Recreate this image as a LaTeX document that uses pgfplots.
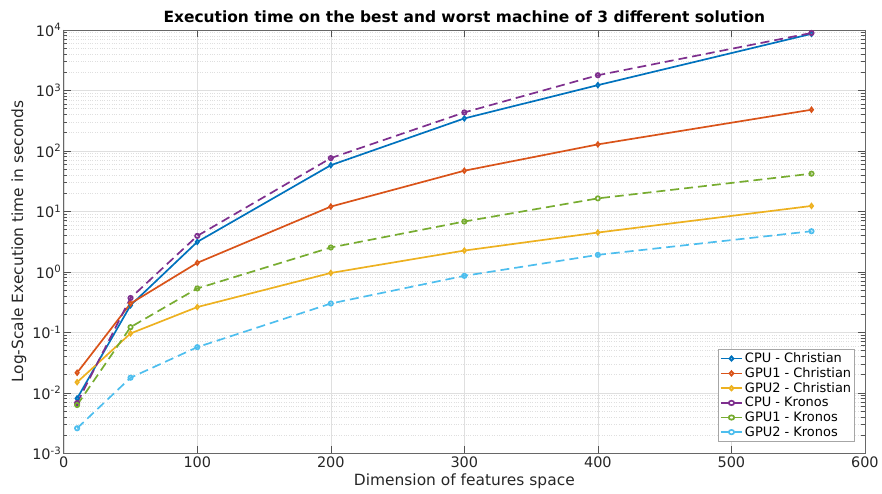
\documentclass[border=0pt]{standalone}
\usepackage{fontspec}
\setmainfont{DejaVu Sans}
\usepackage{pgfplots}
\pgfplotsset{compat=1.18}
\definecolor{mB}{rgb}{0,0.447,0.741}
\definecolor{mO}{rgb}{0.85,0.325,0.098}
\definecolor{mY}{rgb}{0.929,0.694,0.125}
\definecolor{mP}{rgb}{0.494,0.184,0.556}
\definecolor{mG}{rgb}{0.466,0.674,0.188}
\definecolor{mC}{rgb}{0.301,0.745,0.933}
\definecolor{axc}{rgb}{0.15,0.15,0.15}
\begin{document}
\begin{tikzpicture}
\begin{axis}[
  scale only axis,
  width=804pt, height=425pt,
  ymode=log,
  xmin=0, xmax=600, ymin=1e-3, ymax=1e4,
  xtick={0,100,...,600},
  ytick={1e-3,1e-2,1e-1,1e0,1e1,1e2,1e3,1e4},
  yticklabels={10\textsuperscript{-3},10\textsuperscript{-2},10\textsuperscript{-1},10\textsuperscript{0},10\textsuperscript{1},10\textsuperscript{2},10\textsuperscript{3},10\textsuperscript{4}},
  /pgf/number format/assume math mode=true,
  tick label style={font=\fontsize{14.5}{16}\selectfont, color=axc},
  yticklabel style={xshift=1pt},
  label style={font=\fontsize{15.5}{17}\selectfont, color=axc},
  title style={font=\bfseries\fontsize{15.5}{17}\selectfont, yshift=-2pt},
  title={Execution time on the best and worst machine of 3 different solution},
  xlabel={Dimension of features space},
  ylabel={Log-Scale Execution time in seconds},
  xlabel style={yshift=1pt},
  ylabel style={yshift=-1pt},
  axis line style={color=axc!70, line width=0.6pt},
  tick style={color=axc!80, line width=0.6pt},
  tick align=inside,
  major tick length=7pt, minor tick length=3.5pt,
  xmajorgrids, ymajorgrids, yminorgrids,
  major grid style={color=gray!25, line width=0.5pt},
  minor grid style={color=gray!25, dotted, line width=0.5pt},
  legend style={at={(1,0)}, anchor=south east, xshift=-10pt, yshift=12pt,
    font=\fontsize{13}{15}\selectfont, draw=gray!70, line width=0.5pt,
    row sep=-0.5pt, inner sep=1.5pt, cells={anchor=west}},
  legend image post style={xscale=1.25},
  every axis plot/.append style={line width=1.7pt, mark size=2.2pt},
]
\addplot[color=mB, mark=diamond*, mark options={solid, fill=mB!50}] coordinates {(10,0.0081) (50,0.28) (100,3.13) (200,58) (300,344) (400,1220) (560,8600)};
\addlegendentry{CPU - Christian}
\addplot[color=mO, mark=diamond*, mark options={solid, fill=mO!50}] coordinates {(10,0.0215) (50,0.30) (100,1.41) (200,12) (300,47) (400,128) (560,479)};
\addlegendentry{GPU1 - Christian}
\addplot[color=mY, mark=diamond*, mark options={solid, fill=mY!50}] coordinates {(10,0.015) (50,0.096) (100,0.262) (200,0.96) (300,2.25) (400,4.47) (560,12.3)};
\addlegendentry{GPU2 - Christian}
\addplot[color=mP, dash pattern=on 9pt off 5pt, mark=o, mark options={solid}] coordinates {(10,0.0068) (50,0.37) (100,3.93) (200,76) (300,432) (400,1780) (560,8900)};
\addlegendentry{CPU - Kronos}
\addplot[color=mG, dash pattern=on 9pt off 5pt, mark=o, mark options={solid}] coordinates {(10,0.0063) (50,0.122) (100,0.532) (200,2.53) (300,6.8) (400,16.4) (560,42)};
\addlegendentry{GPU1 - Kronos}
\addplot[color=mC, dash pattern=on 9pt off 5pt, mark=o, mark options={solid}] coordinates {(10,0.0026) (50,0.0178) (100,0.057) (200,0.30) (300,0.86) (400,1.91) (560,4.7)};
\addlegendentry{GPU2 - Kronos}
\end{axis}
\path[use as bounding box] (-64pt,-40pt) rectangle (818pt,455pt);
\end{tikzpicture}
\end{document}
